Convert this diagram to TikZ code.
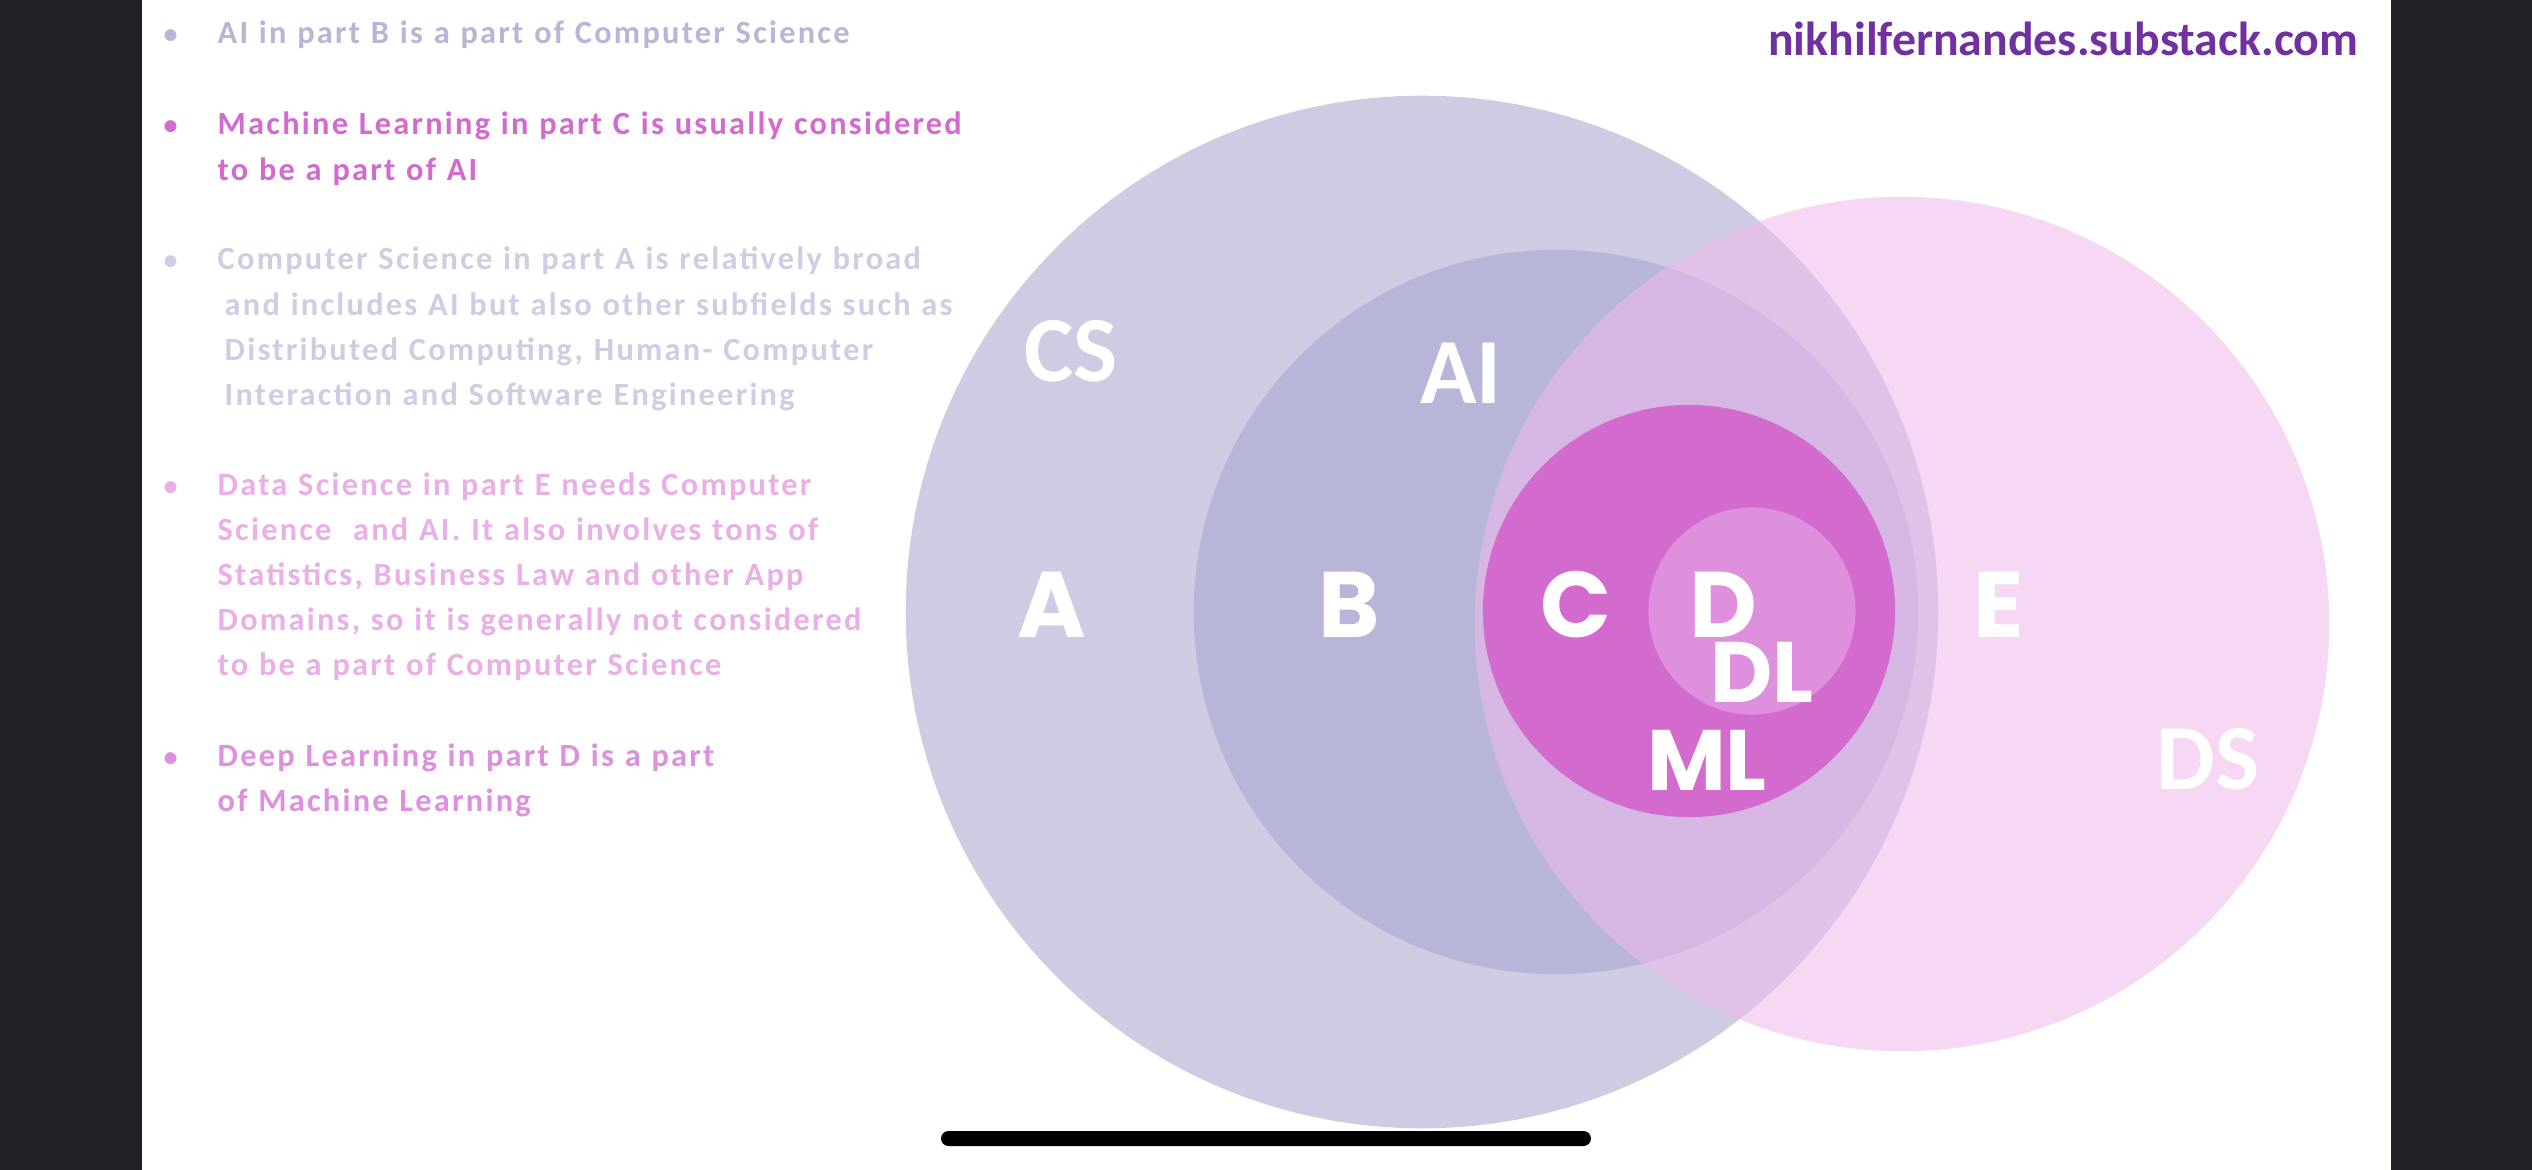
\documentclass[tikz,border=0pt]{standalone}
\usepackage{fontspec}
\setmainfont{Carlito}
\newfontfamily\geofont{Poppins}
\usepackage{xcolor}

\definecolor{cslav}{HTML}{CECCE3}
\definecolor{ailav}{HTML}{B8B6D8}
\definecolor{dspink}{HTML}{F0B8ED}
\definecolor{mlmag}{HTML}{D36BCF}
\definecolor{dlpink}{HTML}{DE8FDD}
\definecolor{notepink}{HTML}{E9AFE6}
\definecolor{notelav}{HTML}{CFCDE4}
\definecolor{urlpurple}{HTML}{7030A0}
\definecolor{phonedark}{HTML}{202125}

\tikzset{
  field/.style = {
    circle, inner sep=0pt, draw=none
  },
  fieldname/.style = {
    text=white, inner sep=0pt, anchor=base,
    font=\fontsize{26.5}{30}\selectfont\bfseries
  },
  part/.style = {
    text=white, inner sep=0pt, anchor=base,
    font=\fontsize{26.5}{30}\selectfont\geofont\bfseries
  },
  smallpart/.style = {
    part, font=\fontsize{24.4}{28}\selectfont\geofont\bfseries
  },
  note/.style = {
    inner sep=0pt, anchor=base west, text width=7.7cm, align=left,
    font=\fontsize{9.2}{12.8}\selectfont\bfseries\addfontfeature{LetterSpace=7}
  }
}
\newcommand{\bull}{\llap{\makebox[0pt][c]{\fontsize{8}{9}\selectfont\textbullet}\hspace{0.47cm}}}

\begin{document}
\begin{tikzpicture}[x=0.01cm, y=-0.01cm]
  \useasboundingbox (0,0) rectangle (2532,1170);

  % Screen and phone frame
  \fill[white] (0,0) rectangle (2532,1170);
  \fill[phonedark] (0,0) rectangle (142,1170);
  \fill[phonedark] (2391,0) rectangle (2532,1170);
  \fill[black, rounded corners=0.075cm] (941,1131) rectangle (1591,1146);

  % Circles
  \node[field, fill=cslav, minimum size=10.32cm] (cs) at (1422,612) {};
  \node[field, fill=ailav, minimum size=7.24cm]  (ai) at (1556,612) {};
  \node[field, fill=dspink, fill opacity=0.55, minimum size=8.54cm] (ds) at (1902,624) {};
  \node[field, fill=mlmag, minimum size=4.12cm]  (ml) at (1689,611) {};
  \node[field, fill=dlpink, minimum size=2.07cm] (dl) at (1752,611) {};

  % Field names
  \node[fieldname] (csname) at (1071,381) {CS};
  \node[fieldname] (ainame) at (1461,403) {AI};
  \node[fieldname] (dsname) at (2208,789) {DS};
  \node[smallpart] (dlname) at (1762,702) {DL};
  \node[smallpart] (mlname) at (1707,790) {ML};

  % Parts
  \node[part] (pa) at (1052,637) {A};
  \node[part] (pb) at (1349,637) {B};
  \node[part] (pc) at (1576,637) {C};
  \node[part] (pd) at (1723,637) {D};
  \node[part] (pe) at (1999,637) {E};

  % Notes
  \node[note, text=ailav] (n1) at (217,44)
    {\bull AI in part B is a part of Computer Science};
  \node[note, text=mlmag] (n2) at (217,135)
    {\bull Machine Learning in part C is usually considered\\to be a part of AI};
  \node[note, text=notelav] (n3) at (217,270)
    {\bull Computer Science in part A is relatively broad\\
     \hspace*{2pt}and includes AI but also other subfields such as\\
     \hspace*{2pt}Distributed Computing, Human- Computer\\
     \hspace*{2pt}Interaction and Software Engineering};
  \node[note, text=notepink] (n4) at (217,495)
    {\bull Data Science in part E needs Computer\\
     Science\ \ and AI. It also involves tons of\\
     Statistics, Business Law and other App\\
     Domains, so it is generally not considered\\
     to be a part of Computer Science};
  \node[note, text=dlpink] (n5) at (217,766)
    {\bull Deep Learning in part D is a part\\of Machine Learning};

  \node[text=urlpurple, inner sep=0pt, anchor=base east,
        font=\fontsize{13.6}{16}\selectfont\bfseries] (url) at (2359,56)
    {nikhilfernandes.substack.com};
\end{tikzpicture}
\end{document}
